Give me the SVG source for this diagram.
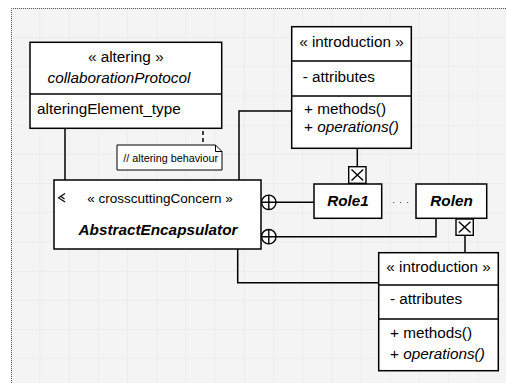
<svg xmlns="http://www.w3.org/2000/svg" width="506" height="383" viewBox="0 0 506 383">
<defs>
<pattern id="grid" x="10.2" y="7.9" width="29.2" height="29.2" patternUnits="userSpaceOnUse">
<path d="M0 0H29.2M0 0V29.2" fill="none" stroke="#e3e3e3" stroke-width="1"/>
</pattern>
<style>
.box{fill:#fff;stroke:#000;stroke-width:1.5}
.ln{fill:none;stroke:#000;stroke-width:1.5}
.t{font-family:"Liberation Sans",Arial,sans-serif;font-size:15.3px;fill:#000}
.c{text-anchor:middle}
.i{font-style:italic}
.b{font-weight:bold}
</style>
</defs>
<rect x="0" y="0" width="506" height="383" fill="#fff"/>
<rect x="11" y="8" width="495" height="375" fill="#f4f4f4"/>
<rect x="11" y="8" width="495" height="375" fill="url(#grid)"/>
<path d="M11.5 383V8.5H506" fill="none" stroke="#555" stroke-width="1" stroke-dasharray="1 1"/>

<g id="connectors">
<path class="ln" d="M65 128V180"/>
<path class="ln" d="M239 180V111H292"/>
<path class="ln" d="M357.3 148V167"/>
<path class="ln" d="M465 235V253"/>
<path class="ln" d="M237.7 249V282.7H379"/>
<path class="ln" d="M276 202.3H314"/>
<path class="ln" d="M276 236.7H436V218"/>
<path d="M203 110V145" fill="none" stroke="#000" stroke-width="1.5" stroke-dasharray="4 3"/>
<path d="M393 202.5H409" fill="none" stroke="#555" stroke-width="1.2" stroke-dasharray="1.2 5.8"/>
<g fill="#fff" stroke="#000" stroke-width="1.4">
<circle cx="268.8" cy="202.3" r="7.2"/>
<path d="M261.6 202.3H276M268.8 195.1V209.5"/>
<circle cx="268.8" cy="236.7" r="7.2"/>
<path d="M261.6 236.7H276M268.8 229.5V243.9"/>
</g>
<g fill="#fff" stroke="#000" stroke-width="1.4">
<rect x="348.7" y="166.7" width="17.3" height="16.6"/>
<path d="M351.5 169.5L363.2 180.5M363.2 169.5L351.5 180.5"/>
<rect x="456" y="219" width="17.3" height="16.3"/>
<path d="M458.8 221.8L470.5 232.5M470.5 221.8L458.8 232.5"/>
</g>
</g>

<g id="altering">
<rect class="box" x="30" y="42.3" width="191.7" height="86"/>
<path class="ln" d="M30 94H221.7"/>
<text class="t c" x="125.8" y="61.5">« altering »</text>
<text class="t c i" x="119" y="83">collaborationProtocol</text>
<text class="t" x="37" y="114.3">alteringElement_type</text>
</g>

<g id="note">
<path d="M117 145H215.5L222 151.5V170H117Z" fill="#fff" stroke="#000" stroke-width="1"/>
<path d="M215.5 145V151.5H222" fill="none" stroke="#000" stroke-width="1"/>
<text class="t" x="123.3" y="162" style="font-size:10.8px">// altering behaviour</text>
</g>

<g id="intro1">
<rect class="box" x="291.7" y="26.7" width="119.6" height="121.6"/>
<path class="ln" d="M291.7 61H411.3M291.7 96H411.3"/>
<text class="t c" x="351.5" y="46.7">« introduction »</text>
<text class="t" x="302.7" y="82.3">- attributes</text>
<text class="t" x="304" y="114.3">+ methods()</text>
<text class="t" x="304" y="131.7">+ <tspan class="i">operations()</tspan></text>
</g>

<g id="concern">
<rect class="box" x="54" y="180" width="207" height="69"/>
<path d="M65 193.5L58.5 197.8L65 202M60.8 196.3L64.5 199" fill="none" stroke="#000" stroke-width="1.1"/>
<text class="t c" x="160" y="203.3" style="font-size:13.5px">« crosscuttingConcern »</text>
<text class="t c i b" x="158" y="235">AbstractEncapsulator</text>
</g>

<g id="role1">
<rect class="box" x="314" y="184" width="67.7" height="34.3"/>
<text class="t c i b" x="348" y="206">Role1</text>
</g>

<g id="rolen">
<rect class="box" x="416" y="184" width="70.7" height="34.3"/>
<text class="t c i b" x="451.5" y="206">Rolen</text>
</g>

<g id="intro2">
<rect class="box" x="378.7" y="252.7" width="119.6" height="118"/>
<path class="ln" d="M378.7 285H498.3M378.7 319H498.3"/>
<text class="t c" x="438.6" y="272.3">« introduction »</text>
<text class="t" x="390" y="304">- attributes</text>
<text class="t" x="390" y="338.3">+ methods()</text>
<text class="t" x="390" y="359.3">+ <tspan class="i">operations()</tspan></text>
</g>
</svg>
